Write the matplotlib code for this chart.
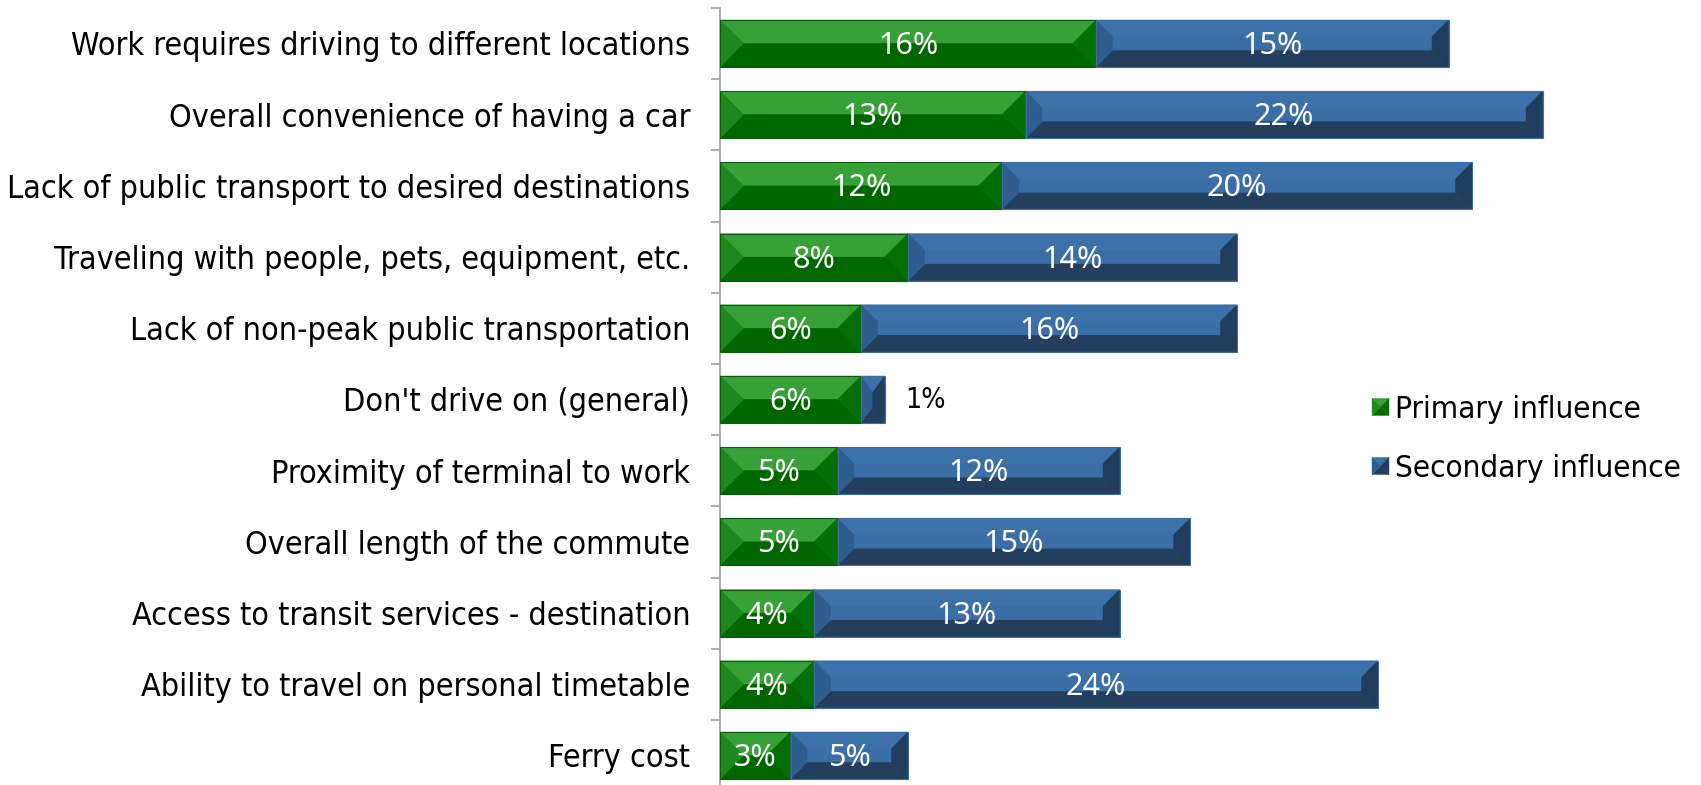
import matplotlib
matplotlib.use("Agg")
import matplotlib.pyplot as plt
from matplotlib.patches import Polygon, Patch
from matplotlib.legend_handler import HandlerBase
import numpy as np

categories = ["Work requires driving to different locations",
              "Overall convenience of having a car",
              "Lack of public transport to desired destinations",
              "Traveling with people, pets, equipment, etc.",
              "Lack of non-peak public transportation",
              "Don't drive on (general)",
              "Proximity of terminal to work",
              "Overall length of the commute",
              "Access to transit services - destination",
              "Ability to travel on personal timetable",
              "Ferry cost"]
primary = [16, 13, 12, 8, 6, 6, 5, 5, 4, 4, 3]
secondary = [15, 22, 20, 14, 16, 1, 12, 15, 13, 24, 5]
series_names = ["Primary influence", "Secondary influence"]

# bevel colours: face, top, bottom, left, right
GREEN = dict(face="#006600", top="#37A037", bottom="#006600", left="#1B8A1B", right="#056E05", edge="#0E5A0E")
BLUE = dict(face="#3B6EA6", top="#3D71A9", bottom="#243F5E", left="#2F5D8E", right="#203D5D", edge="#3B6DA5")

W, H = 1701, 785
fig = plt.figure(figsize=(W / 100, H / 100), dpi=100)
ax_left_px, ax_top_px, ax_bot_px = 720, 7.9, 791.1
ax = fig.add_axes([ax_left_px / W, (H - ax_bot_px) / H, (W - ax_left_px) / W, (ax_bot_px - ax_top_px) / H])

n = len(categories)
y = np.arange(n)
xmax = (W - ax_left_px) / 23.5
ax.set_xlim(0, xmax)
ax.set_ylim(n - 0.5, -0.5)
bar_h = 0.66

# px per data unit
sx = (W - ax_left_px) / xmax
sy = (ax_bot_px - ax_top_px) / n


def bevel(x0, w, yc, colors, d_px, full=False):
    x1 = x0 + w
    top, bot = yc - bar_h / 2, yc + bar_h / 2
    dx = min(d_px / sx, w / 2)
    dy = min(d_px / sy, bar_h / 2)
    if full:
        dy = bar_h / 2
        dx = min(dy * sy / sx, w / 2)
    polys = [
        ([(x0 + dx, top + dy), (x1 - dx, top + dy), (x1 - dx, bot - dy), (x0 + dx, bot - dy)], colors["face"]),
        ([(x0, top), (x1, top), (x1 - dx, top + dy), (x0 + dx, top + dy)], colors["top"]),
        ([(x0, bot), (x1, bot), (x1 - dx, bot - dy), (x0 + dx, bot - dy)], colors["bottom"]),
        ([(x0, top), (x0 + dx, top + dy), (x0 + dx, bot - dy), (x0, bot)], colors["left"]),
        ([(x1, top), (x1 - dx, top + dy), (x1 - dx, bot - dy), (x1, bot)], colors["right"]),
    ]
    for pts, c in polys:
        ax.add_patch(Polygon(pts, closed=True, facecolor=c, edgecolor=c, lw=0.3, zorder=3))
    ax.add_patch(Polygon([(x0, top), (x1, top), (x1, bot), (x0, bot)], closed=True,
                         facecolor="none", edgecolor=colors["edge"], lw=0.8, zorder=4))


# base bars (through the library) then bevel overlay
bars1 = ax.barh(y, primary, height=bar_h, color=GREEN["face"], zorder=2)
bars2 = ax.barh(y, secondary, left=primary, height=bar_h, color=BLUE["face"], zorder=2)
for i in range(n):
    bevel(0, primary[i], y[i], GREEN, 23, full=True)
    bevel(primary[i], secondary[i], y[i], BLUE, 16.5)

lab_kw = dict(family=["Noto Sans", "DejaVu Sans"], fontstretch="extra-condensed", fontsize=22)
for i in range(n):
    ax.annotate(f"{primary[i]}%", (primary[i] / 2, y[i]), xytext=(0, -1.8), textcoords="offset points",
                ha="center", va="center", color="white", zorder=5, **lab_kw)
    if secondary[i] >= 3:
        ax.annotate(f"{secondary[i]}%", (primary[i] + secondary[i] / 2, y[i]), xytext=(0, -1.8),
                    textcoords="offset points", ha="center", va="center",
                    color="white", zorder=5, **lab_kw)
    else:
        ax.annotate(f"{secondary[i]}%", (primary[i] + secondary[i], y[i]), xytext=(15, 0),
                    textcoords="offset points", ha="left", va="center", color="black",
                    fontsize=20.5, fontstretch="condensed", zorder=5)

# axes styling
for s in ["top", "right", "bottom"]:
    ax.spines[s].set_visible(False)
ax.spines["left"].set_color("#A6A6A6")
ax.spines["left"].set_linewidth(1.3)
ax.set_xticks([])
ax.set_yticks(y)
ax.set_yticklabels(categories, fontsize=23.1, fontstretch="condensed")
ax.set_yticks(np.arange(-0.5, n, 1.0), minor=True)
ax.tick_params(axis="y", which="major", length=0, pad=21.5)
ax.tick_params(axis="y", which="minor", length=6.5, width=1.3, color="#A6A6A6")


class BevelHandler(HandlerBase):
    def __init__(self, colors):
        super().__init__()
        self.colors = colors

    def create_artists(self, legend, orig_handle, xdescent, ydescent, width, height, fontsize, trans):
        s = min(width, height)
        x0 = -xdescent + (width - s) / 2
        y0 = -ydescent + (height - s) / 2
        cx, cy = x0 + s / 2, y0 + s / 2
        c = self.colors
        tris = [
            ([(x0, y0 + s), (x0 + s, y0 + s), (cx, cy)], c["top"]),
            ([(x0, y0), (x0 + s, y0), (cx, cy)], c["bottom"]),
            ([(x0, y0), (x0, y0 + s), (cx, cy)], c["left"]),
            ([(x0 + s, y0), (x0 + s, y0 + s), (cx, cy)], c["right"]),
        ]
        return [Polygon(p, closed=True, facecolor=col, edgecolor=col, lw=0.3, transform=trans)
                for p, col in tris]


h1 = Patch(color=GREEN["face"], label=series_names[0])
h2 = Patch(color=BLUE["face"], label=series_names[1])
fs_leg = 22.5
fs_px = fs_leg / 72 * 100
leg = ax.legend(handles=[h1, h2], handler_map={h1: BevelHandler(GREEN), h2: BevelHandler(BLUE)},
                loc="center left", bbox_to_anchor=(1372 / W, 1 - 439 / H), bbox_transform=fig.transFigure,
                frameon=False, borderpad=0, borderaxespad=0, handlelength=17 / fs_px, handleheight=17 / fs_px,
                handletextpad=6 / fs_px, labelspacing=0.96,
                prop=dict(size=fs_leg, stretch="condensed"))

fig.savefig("out.png", dpi=100)
